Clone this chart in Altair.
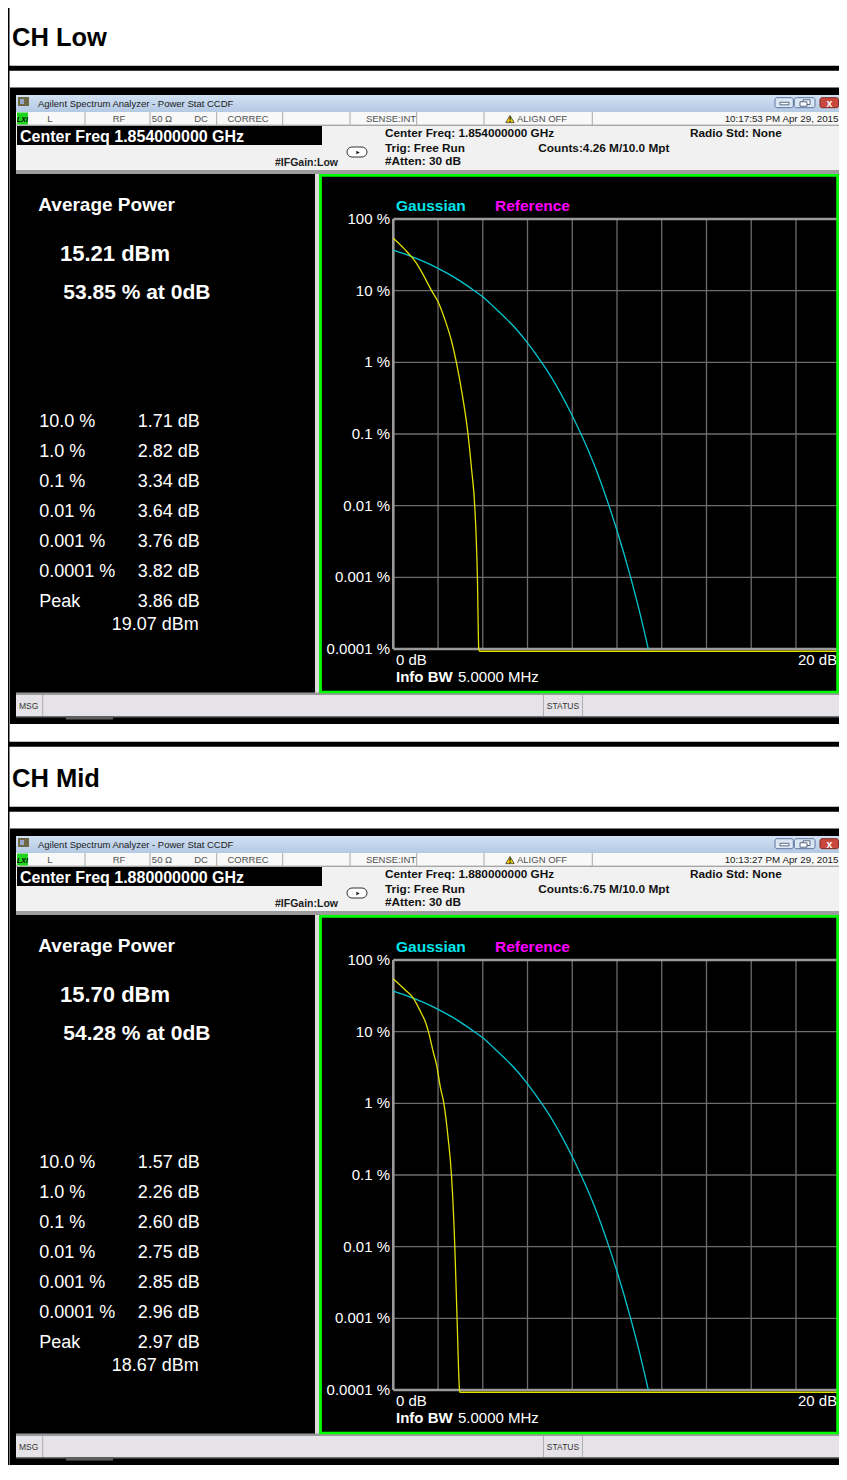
import altair as alt
import pandas as pd

SANS = "Liberation Sans"
W, H = 847, 1480           # reference picture size
M = 8                      # page margin: chart origin sits at page (8, 8)
CHART_W = W - 2 * M        # svg must fit inside the body (no scaling)
CHART_H = 1465 - M
OFFSETS = [0, 741]

# ---------------- values ----------------
panel_titles = ["CH Low", "CH Mid"]
center_freqs = ["1.854000000 GHz", "1.880000000 GHz"]
clock_times = ["10:17:53 PM Apr 29, 2015", "10:13:27 PM Apr 29, 2015"]
count_texts = ["4.26 M/10.0 Mpt", "6.75 M/10.0 Mpt"]
avg_power_texts = ["15.21 dBm", "15.70 dBm"]
pct_at_0db_texts = ["53.85 % at 0dB", "54.28 % at 0dB"]
stat_levels = ["10.0 %", "1.0 %", "0.1 %", "0.01 %", "0.001 %", "0.0001 %", "Peak"]
low_stat_db = [1.71, 2.82, 3.34, 3.64, 3.76, 3.82, 3.86]
mid_stat_db = [1.57, 2.26, 2.60, 2.75, 2.85, 2.96, 2.97]
peak_dbm_texts = ["19.07 dBm", "18.67 dBm"]

grid_db = [0, 2, 4, 6, 8, 10, 12, 14, 16, 18, 20]
grid_pct = [100, 10, 1, 0.1, 0.01, 0.001, 0.0001]
pct_tick_labels = ["100 %", "10 %", "1 %", "0.1 %", "0.01 %", "0.001 %", "0.0001 %"]
db_tick_values = [0, 20]
db_tick_labels = ["0 dB", "20 dB"]

# Gaussian reference trace (cyan)
gauss_db = [0, 0.5, 1, 1.5, 2, 2.5, 3, 3.62, 4, 4.5, 5, 5.5, 6, 6.63, 7, 7.5,
            8, 8.39, 9, 9.64, 10, 10.61, 11, 11.4]
gauss_pct = [36.8, 32.6, 28.4, 24.4, 20.5, 16.9, 13.6, 10, 8.2, 5.9, 4.2, 2.9,
             1.87, 1.0, 0.67, 0.36, 0.18, 0.10, 0.036, 0.010, 0.0045, 0.0010,
             0.00034, 0.0001]

# measured traces (yellow)
low_db = [0, 0.5, 1.0, 1.34, 1.71, 2.0, 2.3, 2.6, 2.82, 3.1, 3.34, 3.5, 3.64,
          3.76, 3.82, 3.86, 20]
low_pct = [53.85, 38, 25, 16.6, 10, 7.0, 4.0, 2.0, 1.0, 0.33, 0.1, 0.032, 0.01,
           0.001, 0.0001, 0.000093, 0.000093]
mid_db = [0, 0.5, 0.87, 1.2, 1.46, 1.57, 1.8, 1.93, 2.1, 2.26, 2.45, 2.60, 2.75,
          2.85, 2.96, 2.97, 20]
mid_pct = [54.28, 39, 30, 19.5, 13, 10, 5.0, 3.5, 1.7, 1.0, 0.33, 0.1, 0.01,
           0.001, 0.0001, 0.000093, 0.000093]
traces = [(low_db, low_pct), (mid_db, mid_pct)]
stats = [low_stat_db, mid_stat_db]

# ---------------- helpers for the instrument window chrome ----------------
under = []
over = []


def rect(x1, y1, x2, y2, color, target=None, **kw):
    (under if target is None else target).append(
        alt.Chart().mark_rect(color=color, **kw).encode(
            x=alt.value(x1 - M), x2=alt.value(x2 - M),
            y=alt.value(y1 - M), y2=alt.value(y2 - M)))


def text(x, y, s, size, color="#ffffff", weight="normal", align="left", font=SANS, **kw):
    under.append(
        alt.Chart().mark_text(text=s, fontSize=size, color=color, fontWeight=weight,
                              align=align, baseline="alphabetic", font=font, **kw).encode(
            x=alt.value(x - M), y=alt.value(y - M)))


def point(x, y, **kw):
    under.append(alt.Chart().mark_point(opacity=1, **kw).encode(
        x=alt.value(x - M), y=alt.value(y - M)))


title_grad = alt.Gradient(
    gradient="linear",
    stops=[alt.GradientStop(color="#d2e1f3", offset=0),
           alt.GradientStop(color="#b4c9e3", offset=1)],
    x1=0, x2=0, y1=0, y2=1)

# page outer border
rect(5, 0, 9.5, H, "#000000")

for k, o in enumerate(OFFSETS):
    # header box
    rect(5, 0.7 + o, W, 5.7 + o, "#000000")
    text(12, 46 + o, panel_titles[k], 25.5, "#000000", "bold")
    rect(5, 65.7 + o, W, 70.7 + o, "#000000")

    # window frame
    rect(10, 87.5 + o, W, 724 + o, "#000000")
    rect(16, 95 + o, W, 112 + o, title_grad)
    rect(18, 97 + o, 29, 106 + o, "#6f6845")
    rect(20, 99 + o, 24, 104 + o, "#9aa6c8")
    text(38, 107 + o, "Agilent Spectrum Analyzer - Power Stat CCDF", 9.5, "#1a1a1a")
    # window buttons
    rect(775, 97.7 + o, 793.3, 107.7 + o, "#dbe6f3", stroke="#5b76a0", strokeWidth=1, cornerRadius=2)
    rect(780, 102.3 + o, 789, 104.8 + o, "#ffffff", stroke="#33476a", strokeWidth=0.8)
    rect(794.3, 97.7 + o, 815, 107.7 + o, "#dbe6f3", stroke="#5b76a0", strokeWidth=1, cornerRadius=2)
    rect(803, 99.8 + o, 810, 104.5 + o, "#ffffff", stroke="#33476a", strokeWidth=0.8)
    rect(800, 101.8 + o, 807, 106.2 + o, "#ffffff", stroke="#33476a", strokeWidth=0.8)
    rect(820, 97.7 + o, 838.5, 107.7 + o, "#c9473c", stroke="#7a2a22", strokeWidth=1, cornerRadius=2)
    text(829.3, 106.6 + o, "x", 10.5, "#ffffff", "bold", align="center")

    # status row
    rect(16, 112 + o, W, 125 + o, "#f8f8f8")
    rect(16, 124.5 + o, W, 125.5 + o, "#b8b8b8")
    for sx in [85, 150, 216.7, 282.7, 350, 416.7, 484, 592.3]:
        rect(sx - 0.5, 112 + o, sx + 0.5, 125 + o, "#a9a9a9")
    rect(17, 112.5 + o, 28, 124.5 + o, "#1fd41f")
    text(22.5, 121.6 + o, "LXI", 7, "#000000", "bold", align="center", fontStyle="italic")
    text(50, 121.8 + o, "L", 9.5, "#505050", align="center")
    text(119, 121.8 + o, "RF", 9.5, "#505050", align="center")
    text(162, 121.8 + o, "50 Ω", 9.5, "#505050", align="center")
    text(201, 121.8 + o, "DC", 9.5, "#505050", align="center")
    text(248, 121.8 + o, "CORREC", 9.5, "#505050", align="center")
    text(391, 121.8 + o, "SENSE:INT", 9.5, "#505050", align="center")
    point(510, 119 + o, shape="triangle-up", filled=True, fill="#f2d200",
          stroke="#222222", strokeWidth=0.7, size=70)
    text(510, 122.3 + o, "!", 7.5, "#000000", "bold", align="center")
    text(517, 121.8 + o, "ALIGN OFF", 9.5, "#505050")
    text(838.5, 121.8 + o, clock_times[k], 9.8, "#222222", align="right")

    # settings header
    rect(16, 125.5 + o, W, 171 + o, "#f1f1f1")
    rect(17, 126 + o, 322, 145 + o, "#000000")
    text(20, 141.7 + o, "Center Freq " + center_freqs[k], 16, "#ffffff", "bold")
    text(275, 166 + o, "#IFGain:Low", 10.5, "#222222", "bold")
    rect(347, 147 + o, 367, 157 + o, "#ffffff", stroke="#333333", strokeWidth=1, cornerRadius=5)
    point(358, 152.5 + o, shape="triangle-right", filled=True, color="#111111", size=14)
    text(385, 137.3 + o, "Center Freq: " + center_freqs[k], 11.8, "#111111", "bold")
    text(385, 151.7 + o, "Trig: Free Run", 11.8, "#111111", "bold")
    text(385, 165 + o, "#Atten: 30 dB", 11.8, "#111111", "bold")
    text(538.3, 151.5 + o, "Counts:" + count_texts[k], 11.8, "#111111", "bold")
    text(690, 137.3 + o, "Radio Std: None", 11.8, "#111111", "bold")
    rect(16, 170 + o, W, 174 + o, "#9c9c9c")

    # left result panel
    rect(17, 174 + o, 315, 692 + o, "#000000")
    rect(315, 174 + o, 319.5, 693 + o, "#dcdcdc")
    text(38.3, 210.7 + o, "Average Power", 19, "#ffffff", "bold")
    text(60, 260.7 + o, avg_power_texts[k], 22, "#ffffff", "bold")
    text(63.3, 299.3 + o, pct_at_0db_texts[k], 21, "#ffffff", "bold")
    text(111.7, 630 + o, peak_dbm_texts[k], 18, "#ffffff")

    # graph panel background
    rect(320.5, 175.3 + o, 840.7, 692 + o, "#000000")
    text(396, 211 + o, "Gaussian", 15.5, "#00e4ec", "bold")
    text(495, 211 + o, "Reference", 15.5, "#ff00ff", "bold")
    text(396, 682.3 + o, "Info BW", 15, "#ffffff", "bold")
    text(458, 682.3 + o, "5.0000 MHz", 15, "#ffffff")

    # bottom message bar
    rect(16, 692.5 + o, W, 695 + o, "#9a9a9a")
    rect(16, 695 + o, W, 716 + o, "#e5e3e8")
    text(19, 709 + o, "MSG", 8.5, "#333333")
    rect(42.2, 695 + o, 43.2, 716 + o, "#b0b0b0")
    rect(543, 695 + o, 544, 716 + o, "#b0b0b0")
    rect(582, 695 + o, 583, 716 + o, "#b0b0b0")
    text(563, 709 + o, "STATUS", 8.5, "#333333", align="center")
    rect(16, 716 + o, W, 717.5 + o, "#6f6f6f")
    rect(66, 716 + o, 113, 719.5 + o, "#5e5e5e")

    # green active-window frame (drawn on top of the plot); right side kept
    # just inside the drawable page width
    rect(320.5, 175.3 + o, 837.6, 692 + o, "#000000", target=over, fillOpacity=0,
         stroke="#00ff00", strokeWidth=2.7)


# ---------------- CCDF plot blocks ----------------
def plot_block(o, ref_db, ref_pct):
    xs = alt.Scale(domain=[0, 20], range=[393.3 - M, 840.7 - M], nice=False, zero=False)
    ys = alt.Scale(type="log", domain=[0.0001, 100],
                   range=[649.0 + o - M, 219.0 + o - M], nice=False)

    inner_db = pd.DataFrame({"db": grid_db[1:-1]})
    outer_db = pd.DataFrame({"db": [grid_db[0], grid_db[-1]]})
    inner_pct = pd.DataFrame({"pct": grid_pct[1:-1]})
    outer_pct = pd.DataFrame({"pct": [grid_pct[0], grid_pct[-1]]})

    def vrules(df, color, sw):
        return alt.Chart(df).mark_rule(color=color, strokeWidth=sw).encode(
            x=alt.X("db:Q", scale=xs, axis=None),
            y=alt.YDatum(100, scale=ys, axis=None),
            y2=alt.Y2Datum(0.0001))

    def hrules(df, color, sw):
        return alt.Chart(df).mark_rule(color=color, strokeWidth=sw).encode(
            y=alt.Y("pct:Q", scale=ys, axis=None),
            x=alt.XDatum(0, scale=xs, axis=None),
            x2=alt.X2Datum(20))

    gdf = pd.DataFrame({"db": gauss_db, "pct": gauss_pct, "i": range(len(gauss_db))})
    rdf = pd.DataFrame({"db": ref_db, "pct": ref_pct, "i": range(len(ref_db))})

    def trace(df, color):
        return alt.Chart(df).mark_line(color=color, strokeWidth=1.3, interpolate="monotone").encode(
            x=alt.X("db:Q", scale=xs, axis=None),
            y=alt.Y("pct:Q", scale=ys, axis=None),
            order=alt.Order("i:Q"))

    ylabels = alt.Chart(pd.DataFrame({"pct": grid_pct, "label": pct_tick_labels})).mark_text(
        align="right", baseline="middle", fontSize=15, color="#ffffff", font=SANS).encode(
        x=alt.value(390 - M), y=alt.Y("pct:Q", scale=ys, axis=None), text="label:N")

    dbdf = pd.DataFrame({"db": db_tick_values, "label": db_tick_labels})
    xl_left = alt.Chart(dbdf.iloc[:1]).mark_text(
        align="left", baseline="alphabetic", fontSize=15, color="#ffffff", font=SANS, dx=2.7).encode(
        x=alt.X("db:Q", scale=xs, axis=None), y=alt.value(665 + o - M), text="label:N")
    xl_right = alt.Chart(dbdf.iloc[1:]).mark_text(
        align="right", baseline="alphabetic", fontSize=15, color="#ffffff", font=SANS, dx=-3.5).encode(
        x=alt.X("db:Q", scale=xs, axis=None), y=alt.value(665 + o - M), text="label:N")

    return alt.layer(
        vrules(inner_db, "#6c6c6c", 1.3),
        hrules(inner_pct, "#6c6c6c", 1.3),
        vrules(outer_db, "#9a9a9a", 2.6),
        hrules(outer_pct, "#9a9a9a", 2.6),
        trace(gdf, "#00c6d0"),
        trace(rdf, "#e0e000"),
        ylabels, xl_left, xl_right,
    )


def table_block(o, vals):
    df = pd.DataFrame({"row": list(range(len(stat_levels))), "level": stat_levels,
                       "val": [f"{v:.2f} dB" for v in vals]})
    ty = alt.Y("row:Q", scale=alt.Scale(domain=[0, 6],
                                        range=[427.3 + o - M, 607.3 + o - M], nice=False),
               axis=None)
    a = alt.Chart(df).mark_text(align="left", baseline="alphabetic", fontSize=18,
                                color="#ffffff", font=SANS).encode(
        x=alt.value(39.3 - M), y=ty, text="level:N")
    b = alt.Chart(df).mark_text(align="left", baseline="alphabetic", fontSize=18,
                                color="#ffffff", font=SANS).encode(
        x=alt.value(137.7 - M), y=ty, text="val:N")
    return alt.layer(a, b)


blocks = []
for k, o in enumerate(OFFSETS):
    blocks.append(plot_block(o, *traces[k]))
    blocks.append(table_block(o, stats[k]))

chart = alt.layer(*under, *blocks, *over).resolve_scale(
    x="independent", y="independent"
).properties(
    width=CHART_W, height=CHART_H,
    padding=0,
    autosize=alt.AutoSizeParams(type="none"),
    background="#ffffff",
).configure_view(stroke="transparent")

chart.save("out.html", embed_options={"renderer": "svg", "actions": False})
